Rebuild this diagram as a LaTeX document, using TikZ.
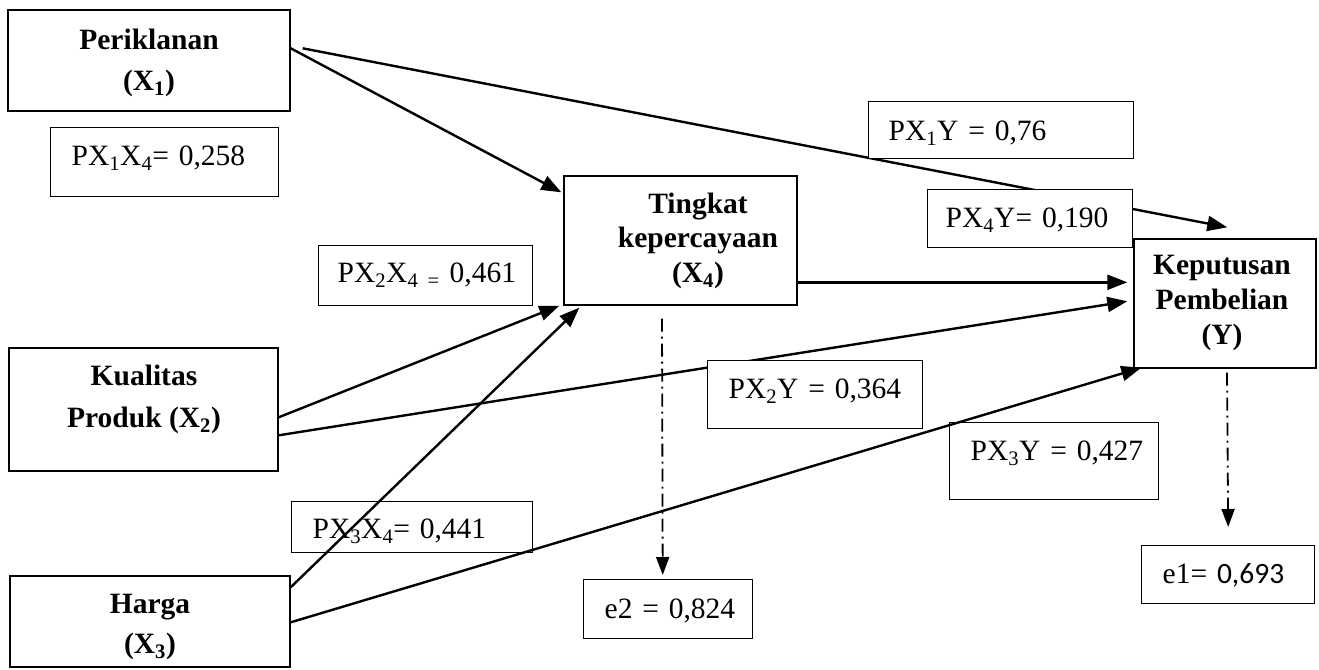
\documentclass[tikz,border=0pt]{standalone}
\usepackage{fontspec}
\setmainfont{Liberation Serif}
\newfontfamily\calfont{Carlito}
\usetikzlibrary{arrows.meta,calc}
\begin{document}
\begin{tikzpicture}[x=1pt,y=-1pt,
  box/.style={draw,line width=1.4pt,inner sep=0pt,fill=white},
  lbl/.style={draw,line width=1.4pt,inner ysep=0pt,anchor=north west,align=left,
    font=\fontsize{29.5}{34}\selectfont},
  ttl/.style={anchor=base,align=center,inner sep=0pt,font=\bfseries\fontsize{29.5}{#1}\selectfont},
  conn/.style={line width=2.4pt,-{Triangle[length=20pt,width=15pt]}},
  err/.style={line width=1.8pt,dash pattern=on 13pt off 5pt on 2pt off 5pt,
    -{Triangle[length=18pt,width=13pt]}}]
\useasboundingbox (0,0) rectangle (1319,669);

% main boxes
\node[box,minimum width=282pt,minimum height=101pt] (X1) at (149,60.5) {};
\node[box,minimum width=269pt,minimum height=123pt] (X2) at (143.5,409.5) {};
\node[box,minimum width=280pt,minimum height=91pt] (X3) at (150,621.5) {};
\node[box,minimum width=233pt,minimum height=129pt] (X4) at (680.5,240.5) {};
\node[box,minimum width=182pt,minimum height=129pt] (Y) at (1225,303.5) {};

% titles (anchor base = baseline of the last line)
\node[ttl=40pt] (X1t) at (149,90) {Periklanan\\(X\textsubscript{1})};
\node[ttl=42pt] (X2t) at (144,427) {Kualitas\\Produk (X\textsubscript{2})};
\node[ttl=40pt] (X3t) at (150,653) {Harga\\(X\textsubscript{3})};
\node[ttl=34.5pt] (X4t) at (698,282) {Tingkat\\kepercayaan\\(X\textsubscript{4})};
\node[ttl=35pt] (Yt) at (1222,344) {Keputusan\\Pembelian\\(Y)};

% unfilled label boxes (lines pass over them)
\node[lbl,inner xsep=21pt,text width=199pt,text height=37pt,text depth=14pt] (L34) at (291,501)
  {\mbox{PX\textsubscript{3}X\textsubscript{4}= 0,441}};
\node[lbl,inner xsep=21pt,text width=167pt,text height=38pt,text depth=39pt] (L3Y) at (949,422)
  {\mbox{PX\textsubscript{3}Y = 0,427}};
\node[lbl,inner xsep=21pt,text width=127pt,text height=39pt,text depth=20pt] (E2) at (583,579)
  {\mbox{e2 = 0,824}};
\node[lbl,inner xsep=21pt,text width=131pt,text height=38pt,text depth=20pt] (E1) at (1141,545)
  {\mbox{e1={\calfont\ 0,693}}};

% connectors
\draw[conn] ($(X1.north east)+(0,39)$) -- ($(X4.north west)+(-2,17)$);
\draw[conn] ($(X1.north east)+(12,39)$) -- ($(Y.north west)+(94,-11)$);
\draw[conn] ($(X4.north east)+(0,107)$) -- ($(Y.north west)+(-6,44)$);
\draw[conn] ($(X2.north east)+(0,70)$) -- ($(X4.south west)+(-4,0)$);
\draw[conn] ($(X2.north east)+(0,88)$) -- ($(Y.north west)+(-6,63)$);
\draw[conn] ($(X3.north east)+(0,12)$) -- ($(X4.south west)+(16,2)$);
\draw[conn] ($(X3.north east)+(0,47)$) -- ($(Y.south west)+(8,-1)$);
\draw[err] ($(X4.south)+(-18.5,13)$) -- ($(E2.north)+(-5.5,-4)$);
\draw[err] ($(Y.south)+(2,4)$) -- ($(E1.north)+(0,-18)$);

% filled label boxes (hide the lines behind them)
\node[lbl,fill=white,inner xsep=21pt,text width=186pt,text height=38pt,text depth=31pt] (L14) at (50,127)
  {\mbox{PX\textsubscript{1}X\textsubscript{4}= 0,258}};
\node[lbl,fill=white,inner xsep=19pt,text width=176pt,text height=37pt,text depth=23pt] (L24) at (318,245)
  {\mbox{PX\textsubscript{2}X\textsubscript{4 =} 0,461}};
\node[lbl,fill=white,inner xsep=20pt,text width=225pt,text height=39pt,text depth=18pt] (L1Y) at (868,101)
  {\mbox{PX\textsubscript{1}Y = 0,76}};
\node[lbl,fill=white,inner xsep=18pt,text width=169pt,text height=38pt,text depth=20pt] (L4Y) at (927,189)
  {\mbox{PX\textsubscript{4}Y= 0,190}};
\node[lbl,fill=white,inner xsep=21pt,text width=173pt,text height=38pt,text depth=30pt] (L2Y) at (707,360)
  {\mbox{PX\textsubscript{2}Y = 0,364}};
\end{tikzpicture}
\end{document}
